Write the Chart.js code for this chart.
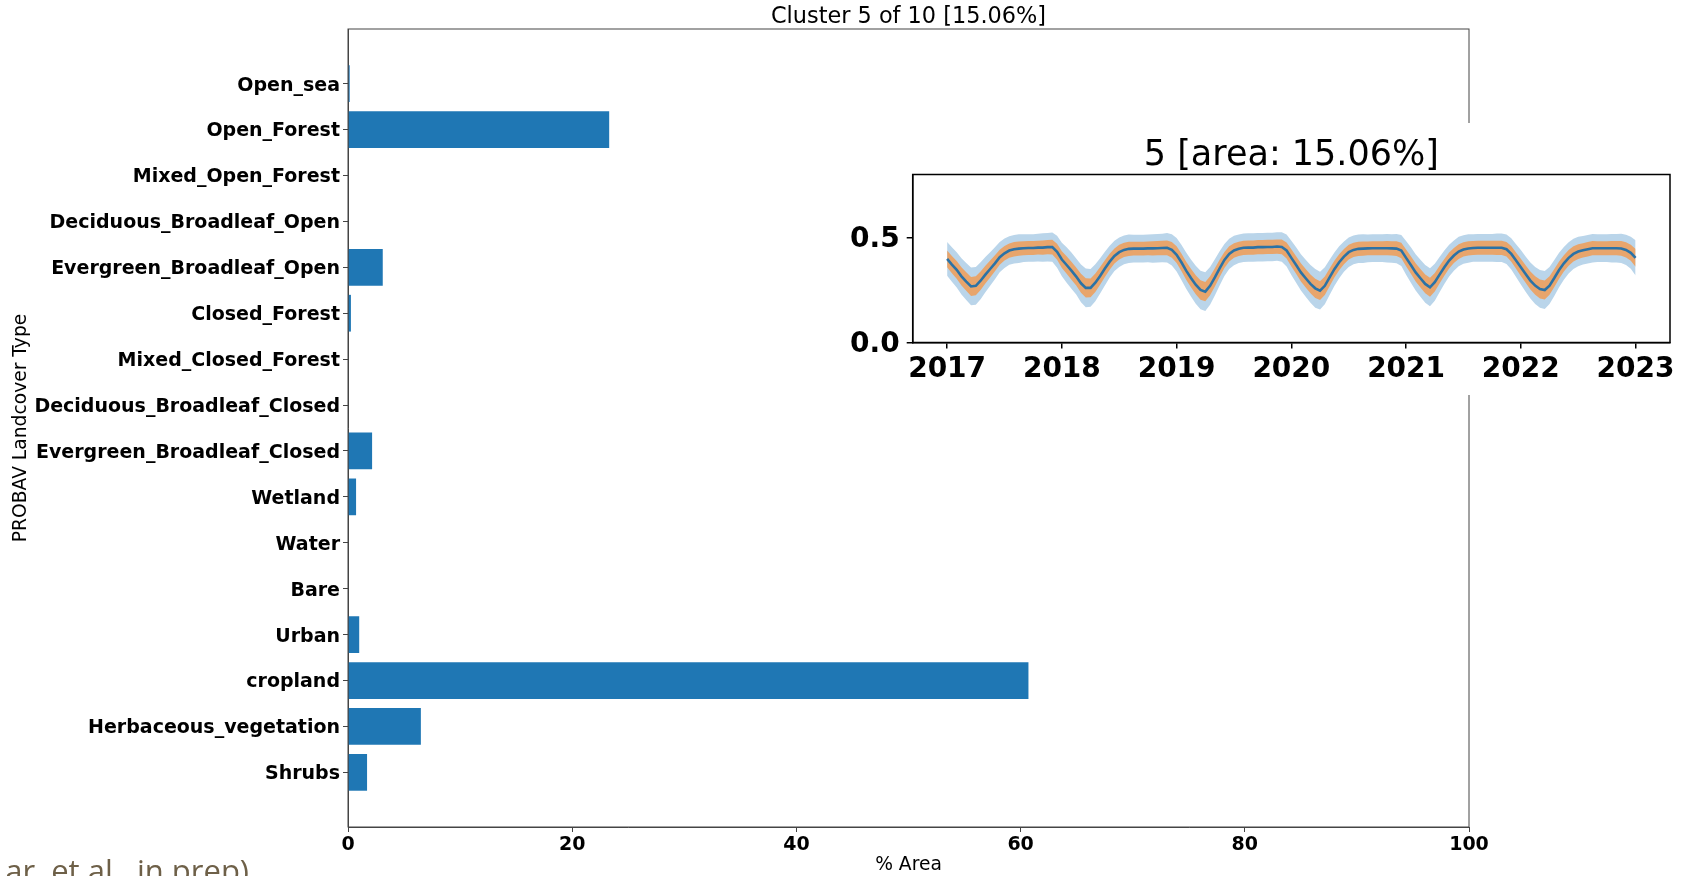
<!DOCTYPE html>
<html>
<head>
<meta charset="utf-8">
<title>Cluster 5 of 10</title>
<script src="https://cdn.jsdelivr.net/npm/chart.js@4.4.1/dist/chart.umd.min.js"></script>
<style>
  html, body { margin: 0; padding: 0; background: #fff; overflow: hidden; }
  #wrap { position: relative; width: 1682px; height: 876px; }
  #main { position: absolute; left: 0; top: 0; }
  #inset { position: absolute; left: 830px; top: 123px; background: #fff; }
</style>
</head>
<body>
<div id="wrap">
  <canvas id="main" width="1682" height="876"></canvas>
  <canvas id="inset" width="852" height="272"></canvas>
</div>
<script>
// ---- Landcover composition of the cluster (% of area) ----
const landcoverTypes = [
  'Open_sea', 'Open_Forest', 'Mixed_Open_Forest', 'Deciduous_Broadleaf_Open',
  'Evergreen_Broadleaf_Open', 'Closed_Forest', 'Mixed_Closed_Forest',
  'Deciduous_Broadleaf_Closed', 'Evergreen_Broadleaf_Closed', 'Wetland', 'Water',
  'Bare', 'Urban', 'cropland', 'Herbaceous_vegetation', 'Shrubs'
];
const areaPercent = [
  0.15, 23.3, 0, 0,
  3.1, 0.26, 0,
  0, 2.15, 0.72, 0,
  0, 1.0, 60.7, 6.5, 1.7
];
const areaTicks = [0, 20, 40, 60, 80, 100];

// ---- Cluster time series: half-monthly mean and spread, 2017-2023 ----
const firstYear = 2017;
const samplesPerYear = 24;
const yearTicks = [2017, 2018, 2019, 2020, 2021, 2022, 2023];
const signalTicks = [0.0, 0.5];

const seriesMean = [
  // 2017
  0.398, 0.371, 0.346, 0.315, 0.290, 0.267, 0.270, 0.294, 0.323, 0.350, 0.377, 0.406,
  0.425, 0.438, 0.444, 0.447, 0.449, 0.450, 0.450, 0.452, 0.452, 0.454, 0.454, 0.432,
  // 2018
  0.395, 0.369, 0.342, 0.314, 0.282, 0.260, 0.260, 0.285, 0.317, 0.352, 0.385, 0.412,
  0.430, 0.441, 0.446, 0.447, 0.447, 0.447, 0.448, 0.448, 0.449, 0.450, 0.451, 0.441,
  // 2019
  0.418, 0.382, 0.342, 0.307, 0.275, 0.250, 0.242, 0.270, 0.310, 0.353, 0.393, 0.422,
  0.438, 0.446, 0.451, 0.452, 0.452, 0.454, 0.454, 0.455, 0.455, 0.457, 0.455, 0.438,
  // 2020
  0.403, 0.369, 0.334, 0.306, 0.279, 0.258, 0.247, 0.270, 0.310, 0.349, 0.382, 0.409,
  0.430, 0.441, 0.446, 0.447, 0.448, 0.449, 0.449, 0.449, 0.449, 0.448, 0.447, 0.438,
  // 2021
  0.403, 0.369, 0.334, 0.306, 0.279, 0.263, 0.287, 0.323, 0.358, 0.390, 0.414, 0.433,
  0.443, 0.448, 0.450, 0.451, 0.451, 0.451, 0.451, 0.451, 0.451, 0.444, 0.422, 0.390,
  // 2022
  0.358, 0.326, 0.295, 0.271, 0.255, 0.250, 0.271, 0.307, 0.345, 0.377, 0.403, 0.422,
  0.433, 0.439, 0.444, 0.449, 0.449, 0.449, 0.449, 0.449, 0.449, 0.448, 0.441, 0.427,
  // 2023
  0.403
];

const seriesStd = [
  // 2017
  0.040, 0.041, 0.042, 0.043, 0.044, 0.045, 0.045, 0.044, 0.042, 0.040, 0.038, 0.036,
  0.035, 0.034, 0.034, 0.034, 0.033, 0.033, 0.033, 0.033, 0.034, 0.034, 0.035, 0.038,
  // 2018
  0.040, 0.042, 0.043, 0.043, 0.045, 0.046, 0.045, 0.044, 0.042, 0.040, 0.038, 0.036,
  0.035, 0.034, 0.034, 0.033, 0.033, 0.033, 0.033, 0.034, 0.034, 0.034, 0.035, 0.037,
  // 2019
  0.040, 0.042, 0.043, 0.044, 0.045, 0.046, 0.046, 0.045, 0.043, 0.041, 0.038, 0.036,
  0.035, 0.034, 0.034, 0.034, 0.034, 0.034, 0.034, 0.034, 0.034, 0.034, 0.035, 0.038,
  // 2020
  0.041, 0.042, 0.043, 0.044, 0.045, 0.046, 0.045, 0.044, 0.042, 0.040, 0.038, 0.036,
  0.035, 0.034, 0.034, 0.034, 0.033, 0.033, 0.033, 0.033, 0.034, 0.034, 0.035, 0.037,
  // 2021
  0.040, 0.042, 0.043, 0.044, 0.045, 0.045, 0.044, 0.042, 0.040, 0.038, 0.036, 0.035,
  0.034, 0.034, 0.033, 0.033, 0.033, 0.033, 0.033, 0.034, 0.034, 0.035, 0.037, 0.039,
  // 2022
  0.041, 0.042, 0.043, 0.044, 0.045, 0.045, 0.044, 0.043, 0.041, 0.039, 0.037, 0.036,
  0.035, 0.034, 0.034, 0.034, 0.033, 0.033, 0.033, 0.034, 0.034, 0.035, 0.036, 0.038,
  // 2023
  0.042
];

const FONT = 'DejaVu Sans';
Chart.defaults.font.family = FONT;
Chart.defaults.color = '#000';

// Four-sided axes frame around the plot area.
const framePlugin = {
  id: 'frame',
  afterDraw(chart, args, opts) {
    const { ctx, chartArea: a } = chart;
    ctx.save();
    ctx.strokeStyle = opts.color;
    ctx.lineWidth = opts.width;
    ctx.strokeRect(a.left, a.top, a.right - a.left, a.bottom - a.top);
    ctx.restore();
  }
};

// Axes title centred over the plot area (not the whole canvas).
const headingPlugin = {
  id: 'heading',
  afterDraw(chart, args, opts) {
    const { ctx, chartArea: a } = chart;
    ctx.save();
    ctx.font = opts.font;
    ctx.fillStyle = '#000';
    ctx.textAlign = 'center';
    ctx.textBaseline = 'alphabetic';
    ctx.fillText(opts.text, (a.left + a.right) / 2, opts.baseline);
    ctx.restore();
  }
};

// Slide caption text left under the figure.
const captionPlugin = {
  id: 'caption',
  afterDraw(chart, args, opts) {
    const { ctx } = chart;
    ctx.save();
    ctx.font = opts.font;
    ctx.fillStyle = opts.color;
    ctx.textAlign = 'right';
    ctx.textBaseline = 'alphabetic';
    ctx.fillText(opts.text, opts.x, opts.y);
    ctx.restore();
  }
};

// ---- Main horizontal bar chart ----
new Chart(document.getElementById('main'), {
  type: 'bar',
  data: {
    datasets: [{
      data: areaPercent.map((v, i) => ({ x: v, y: i })),
      backgroundColor: '#1f77b4',
      borderWidth: 0,
      barPercentage: 1,
      categoryPercentage: 0.8
    }]
  },
  options: {
    responsive: false,
    animation: false,
    indexAxis: 'y',
    layout: { padding: { left: 0, right: 213, top: 29, bottom: 0 } },
    plugins: {
      legend: { display: false },
      tooltip: { enabled: false },
      title: { display: false },
      heading: { text: 'Cluster 5 of 10 [15.06%]', font: 'normal 22.4px "DejaVu Sans"', baseline: 23 },
      frame: { color: '#444', width: 1 },
      caption: { text: 'ar, et al., in prep)', font: '31px "Open Sans"', color: '#6e6048', x: 249, y: 882 }
    },
    scales: {
      x: {
        type: 'linear',
        position: 'bottom',
        min: 0,
        max: 100,
        afterBuildTicks: s => { s.ticks = areaTicks.map(v => ({ value: v })); },
        afterFit: s => { s.height = 49; },
        ticks: {
          font: { family: FONT, size: 19, weight: 'bold' },
          color: '#000',
          padding: 2,
          maxRotation: 0,
          autoSkip: false,
          callback: v => String(v)
        },
        grid: { display: true, drawOnChartArea: false, offset: false, tickLength: 5, color: '#444', lineWidth: 1 },
        border: { display: true, color: '#444', width: 1 },
        title: {
          display: true,
          text: '% Area',
          font: { family: FONT, size: 18.7 },
          color: '#000',
          padding: { top: 0, bottom: 0 }
        }
      },
      y: {
        type: 'linear',
        position: 'left',
        offset: false,
        min: -1.19,
        max: 16.19,
        reverse: true,
        afterBuildTicks: s => { s.ticks = landcoverTypes.map((_, i) => ({ value: i })); },
        afterFit: s => { s.width = 348; },
        ticks: {
          font: { family: FONT, size: 19, weight: 'bold' },
          color: '#000',
          padding: 3,
          labelOffset: 2,
          autoSkip: false,
          callback: v => landcoverTypes[v]
        },
        grid: { display: true, drawOnChartArea: false, offset: false, tickLength: 5, color: '#444', lineWidth: 1 },
        border: { display: true, color: '#444', width: 1 },
        title: {
          display: true,
          text: 'PROBAV Landcover Type',
          font: { family: FONT, size: 18.7 },
          color: '#000',
          padding: { top: 10, bottom: 0 }
        }
      }
    }
  },
  plugins: [framePlugin, headingPlugin, captionPlugin]
});

// ---- Inset: cluster mean with 1 and 2 standard deviation bands ----
const sampleYear = i => firstYear + i / samplesPerYear;
const meanPts = seriesMean.map((m, i) => ({ x: sampleYear(i), y: m }));
const bandPts = k => seriesMean.map((m, i) => ({ x: sampleYear(i), y: m + k * seriesStd[i] }));
const clear = 'rgba(0,0,0,0)';

new Chart(document.getElementById('inset'), {
  type: 'line',
  data: {
    datasets: [
      { data: meanPts, borderColor: '#2b72a6', borderWidth: 2.6, pointRadius: 0, fill: false, tension: 0 },
      { data: bandPts(1), borderColor: clear, borderWidth: 1, pointRadius: 0, fill: '+1', backgroundColor: '#e8a56c' },
      { data: bandPts(-1), borderColor: clear, borderWidth: 1, pointRadius: 0, fill: false },
      { data: bandPts(2), borderColor: clear, borderWidth: 1, pointRadius: 0, fill: '+1', backgroundColor: '#bad5ea' },
      { data: bandPts(-2), borderColor: clear, borderWidth: 1, pointRadius: 0, fill: false }
    ]
  },
  options: {
    responsive: false,
    animation: false,
    layout: { padding: { left: 0, right: 12, top: 51.5, bottom: 0 } },
    plugins: {
      legend: { display: false },
      tooltip: { enabled: false },
      title: { display: false },
      heading: { text: '5 [area: 15.06%]', font: 'normal 35px "DejaVu Sans"', baseline: 42 },
      frame: { color: '#000', width: 1.5 }
    },
    scales: {
      x: {
        type: 'linear',
        min: 2016.7,
        max: 2023.3,
        afterBuildTicks: s => { s.ticks = yearTicks.map(v => ({ value: v })); },
        afterFit: s => { s.height = 52.5; },
        ticks: {
          font: { family: FONT, size: 28, weight: 'bold' },
          color: '#000',
          padding: 4.5,
          maxRotation: 0,
          autoSkip: false,
          callback: v => String(v)
        },
        grid: { display: true, drawOnChartArea: false, tickLength: 6, color: '#000', lineWidth: 1.5 },
        border: { display: true, color: '#000', width: 1.5 }
      },
      y: {
        type: 'linear',
        min: 0,
        max: 0.8,
        afterBuildTicks: s => { s.ticks = signalTicks.map(v => ({ value: v })); },
        afterFit: s => { s.width = 82.7; },
        ticks: {
          font: { family: FONT, size: 28, weight: 'bold' },
          color: '#000',
          padding: 7,
          labelOffset: 2,
          autoSkip: false,
          callback: v => Number(v).toFixed(1)
        },
        grid: { display: true, drawOnChartArea: false, tickLength: 6, color: '#000', lineWidth: 1.5 },
        border: { display: true, color: '#000', width: 1.5 }
      }
    }
  },
  plugins: [framePlugin, headingPlugin]
});
</script>
</body>
</html>
